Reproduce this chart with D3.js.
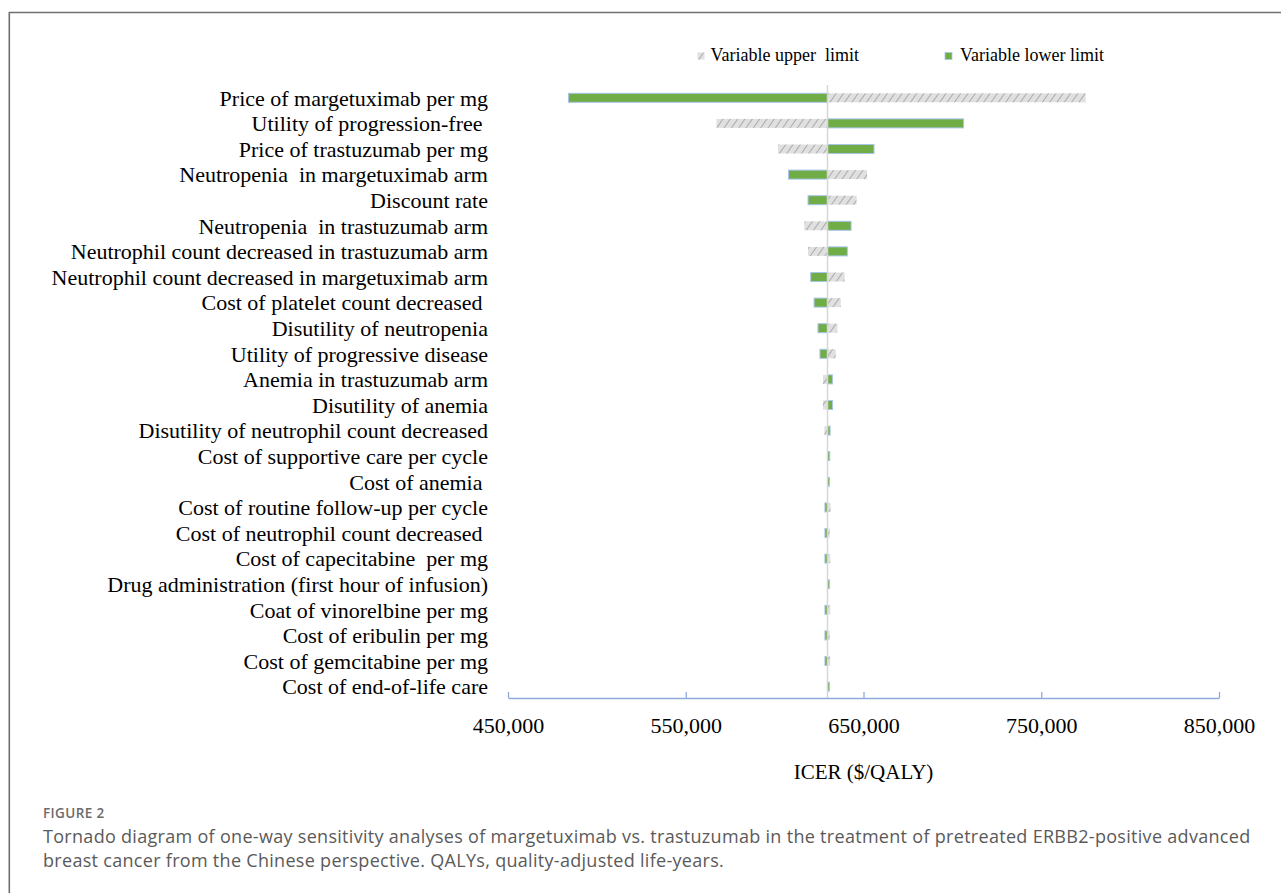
<!DOCTYPE html>
<html>
<head>
<meta charset="utf-8">
<script src="https://cdn.jsdelivr.net/npm/d3@7"></script>
<style>
  html, body { margin: 0; padding: 0; background: #fff; }
  svg { display: block; }
  text { white-space: pre; }
</style>
</head>
<body>
<svg id="chart" width="1281" height="893"></svg>
<script>
// One-way sensitivity inputs, ordered by spread (largest first)
const categories = [
  "Price of margetuximab per mg",
  "Utility of progression-free ",
  "Price of trastuzumab per mg",
  "Neutropenia  in margetuximab arm",
  "Discount rate",
  "Neutropenia  in trastuzumab arm",
  "Neutrophil count decreased in trastuzumab arm",
  "Neutrophil count decreased in margetuximab arm",
  "Cost of platelet count decreased ",
  "Disutility of neutropenia",
  "Utility of progressive disease",
  "Anemia in trastuzumab arm",
  "Disutility of anemia",
  "Disutility of neutrophil count decreased",
  "Cost of supportive care per cycle",
  "Cost of anemia ",
  "Cost of routine follow-up per cycle",
  "Cost of neutrophil count decreased ",
  "Cost of capecitabine  per mg",
  "Drug administration (first hour of infusion)",
  "Coat of vinorelbine per mg",
  "Cost of eribulin per mg",
  "Cost of gemcitabine per mg",
  "Cost of end-of-life care"
];

// ICER ($/QALY) when each input is set to its upper limit
const upperLimit = [
  775000, 567300, 601900, 652000, 646100, 616700, 618800, 639400,
  637200, 635300, 634400, 627200, 627200, 628000, 629500, 629600,
  631500, 631000, 631300, 629700, 631300, 631000, 631300, 629700
];

// ICER ($/QALY) when each input is set to its lower limit
const lowerLimit = [
  484000, 706300, 655900, 607800, 618800, 643000, 640900, 620300,
  622200, 624400, 625500, 632500, 632600, 631200, 631000, 630800,
  628300, 628300, 628300, 630800, 628300, 628300, 628300, 630800
];

const baseICER = 629750;
const xTicks = [450000, 550000, 650000, 750000, 850000];
const legendLabels = ["Variable upper  limit", "Variable lower limit"];
const axisTitle = "ICER ($/QALY)";
const figureLabel = "FIGURE 2";
const captionLines = [
  "Tornado diagram of one-way sensitivity analyses of margetuximab vs. trastuzumab in the treatment of pretreated ERBB2-positive advanced",
  "breast cancer from the Chinese perspective. QALYs, quality-adjusted life-years."
];

const serif = "'Liberation Serif', 'Times New Roman', serif";
const sans = "'Open Sans', 'Noto Sans', sans-serif";
const green = "#70ad47";
const barEdge = "#a9c4eb";

const svg = d3.select("#chart");

// Hatched fill for the upper-limit bars
const defs = svg.append("defs");
const pat = defs.append("pattern")
  .attr("id", "hatch")
  .attr("patternUnits", "userSpaceOnUse")
  .attr("width", 6).attr("height", 6)
  .attr("patternTransform", "rotate(35)");
pat.append("rect").attr("width", 6).attr("height", 6).attr("fill", "#e0e0e0");
pat.append("line").attr("x1", 0).attr("y1", 0).attr("x2", 0).attr("y2", 6)
  .attr("stroke", "#ababab").attr("stroke-width", 2);

// Figure frame
svg.append("line").attr("x1", 9).attr("x2", 1281).attr("y1", 12.5).attr("y2", 12.5)
  .attr("stroke", "#707070").attr("stroke-width", 1.6);
svg.append("line").attr("x1", 9.3).attr("x2", 9.3).attr("y1", 12).attr("y2", 893)
  .attr("stroke", "#707070").attr("stroke-width", 1.6);

const x = d3.scaleLinear().domain([450000, 850000]).range([508, 1219]);
const y = d3.scaleBand().domain(categories).range([85, 699.4]).padding(0);
const barH = 9;

const rows = categories.map((c, i) => ({ cat: c, up: upperLimit[i], low: lowerLimit[i] }));

// Category labels
svg.append("g").selectAll("text").data(rows).join("text")
  .attr("x", 488)
  .attr("y", d => y(d.cat) + y.bandwidth() / 2)
  .attr("dy", "0.35em")
  .attr("text-anchor", "end")
  .attr("font-family", serif)
  .attr("font-size", 22)
  .attr("fill", "#000")
  .text(d => d.cat);

// Upper-limit bars (hatched)
svg.append("g").selectAll("rect").data(rows).join("rect")
  .attr("x", d => Math.min(x(d.up), x(baseICER)))
  .attr("y", d => y(d.cat) + y.bandwidth() / 2 - barH / 2)
  .attr("width", d => Math.abs(x(d.up) - x(baseICER)))
  .attr("height", barH)
  .attr("fill", "url(#hatch)");

// Lower-limit bars (green)
svg.append("g").selectAll("rect").data(rows).join("rect")
  .attr("x", d => Math.min(x(d.low), x(baseICER)))
  .attr("y", d => y(d.cat) + y.bandwidth() / 2 - barH / 2)
  .attr("width", d => Math.abs(x(d.low) - x(baseICER)))
  .attr("height", barH)
  .attr("fill", green)
  .attr("stroke", barEdge)
  .attr("stroke-width", 1);

// Base-case line
svg.append("line")
  .attr("x1", x(baseICER)).attr("x2", x(baseICER))
  .attr("y1", 85).attr("y2", 698)
  .attr("stroke", "#d6d6d6").attr("stroke-width", 1.5);

// X axis (ticks point up, labels below)
const axis = d3.axisBottom(x)
  .tickValues(xTicks)
  .tickFormat(d3.format(","))
  .tickSizeInner(-6)
  .tickSizeOuter(0)
  .tickPadding(19);
const gAxis = svg.append("g").attr("transform", "translate(0,698)").call(axis);
gAxis.select(".domain").attr("stroke", "#8faadc").attr("stroke-width", 1.3);
gAxis.selectAll(".tick line").attr("stroke", "#8faadc").attr("stroke-width", 1.3);
gAxis.selectAll(".tick text")
  .attr("font-family", serif).attr("font-size", 22).attr("fill", "#000");

svg.append("text")
  .attr("x", (x.range()[0] + x.range()[1]) / 2)
  .attr("y", 779)
  .attr("text-anchor", "middle")
  .attr("font-family", serif).attr("font-size", 21).attr("fill", "#000")
  .text(axisTitle);

// Legend
const legY = 61;
const leg = svg.append("g").attr("font-family", serif).attr("font-size", 18);
const t1 = leg.append("text").attr("y", legY).text(legendLabels[0]);
const w1 = t1.node().getComputedTextLength();
t1.attr("x", 859 - w1);
leg.append("rect").attr("x", 859 - w1 - 13).attr("y", 52.5).attr("width", 7).attr("height", 7)
  .attr("fill", "url(#hatch)");
leg.append("rect").attr("x", 945).attr("y", 52.5).attr("width", 7).attr("height", 7)
  .attr("fill", green).attr("stroke", barEdge).attr("stroke-width", 0.8);
leg.append("text").attr("x", 960).attr("y", legY).text(legendLabels[1]);

// Caption
svg.append("text")
  .attr("x", 43).attr("y", 818)
  .attr("font-family", sans).attr("font-size", 13.5).attr("font-weight", 600)
  .attr("letter-spacing", 0.4)
  .attr("fill", "#6b6b6b")
  .text(figureLabel);
svg.append("g").selectAll("text").data(captionLines).join("text")
  .attr("x", 43)
  .attr("y", (d, i) => 843 + i * 24)
  .attr("font-family", sans).attr("font-size", 18)
  .attr("letter-spacing", 0.3)
  .attr("fill", "#5a5a5a")
  .text(d => d);
</script>
</body>
</html>
